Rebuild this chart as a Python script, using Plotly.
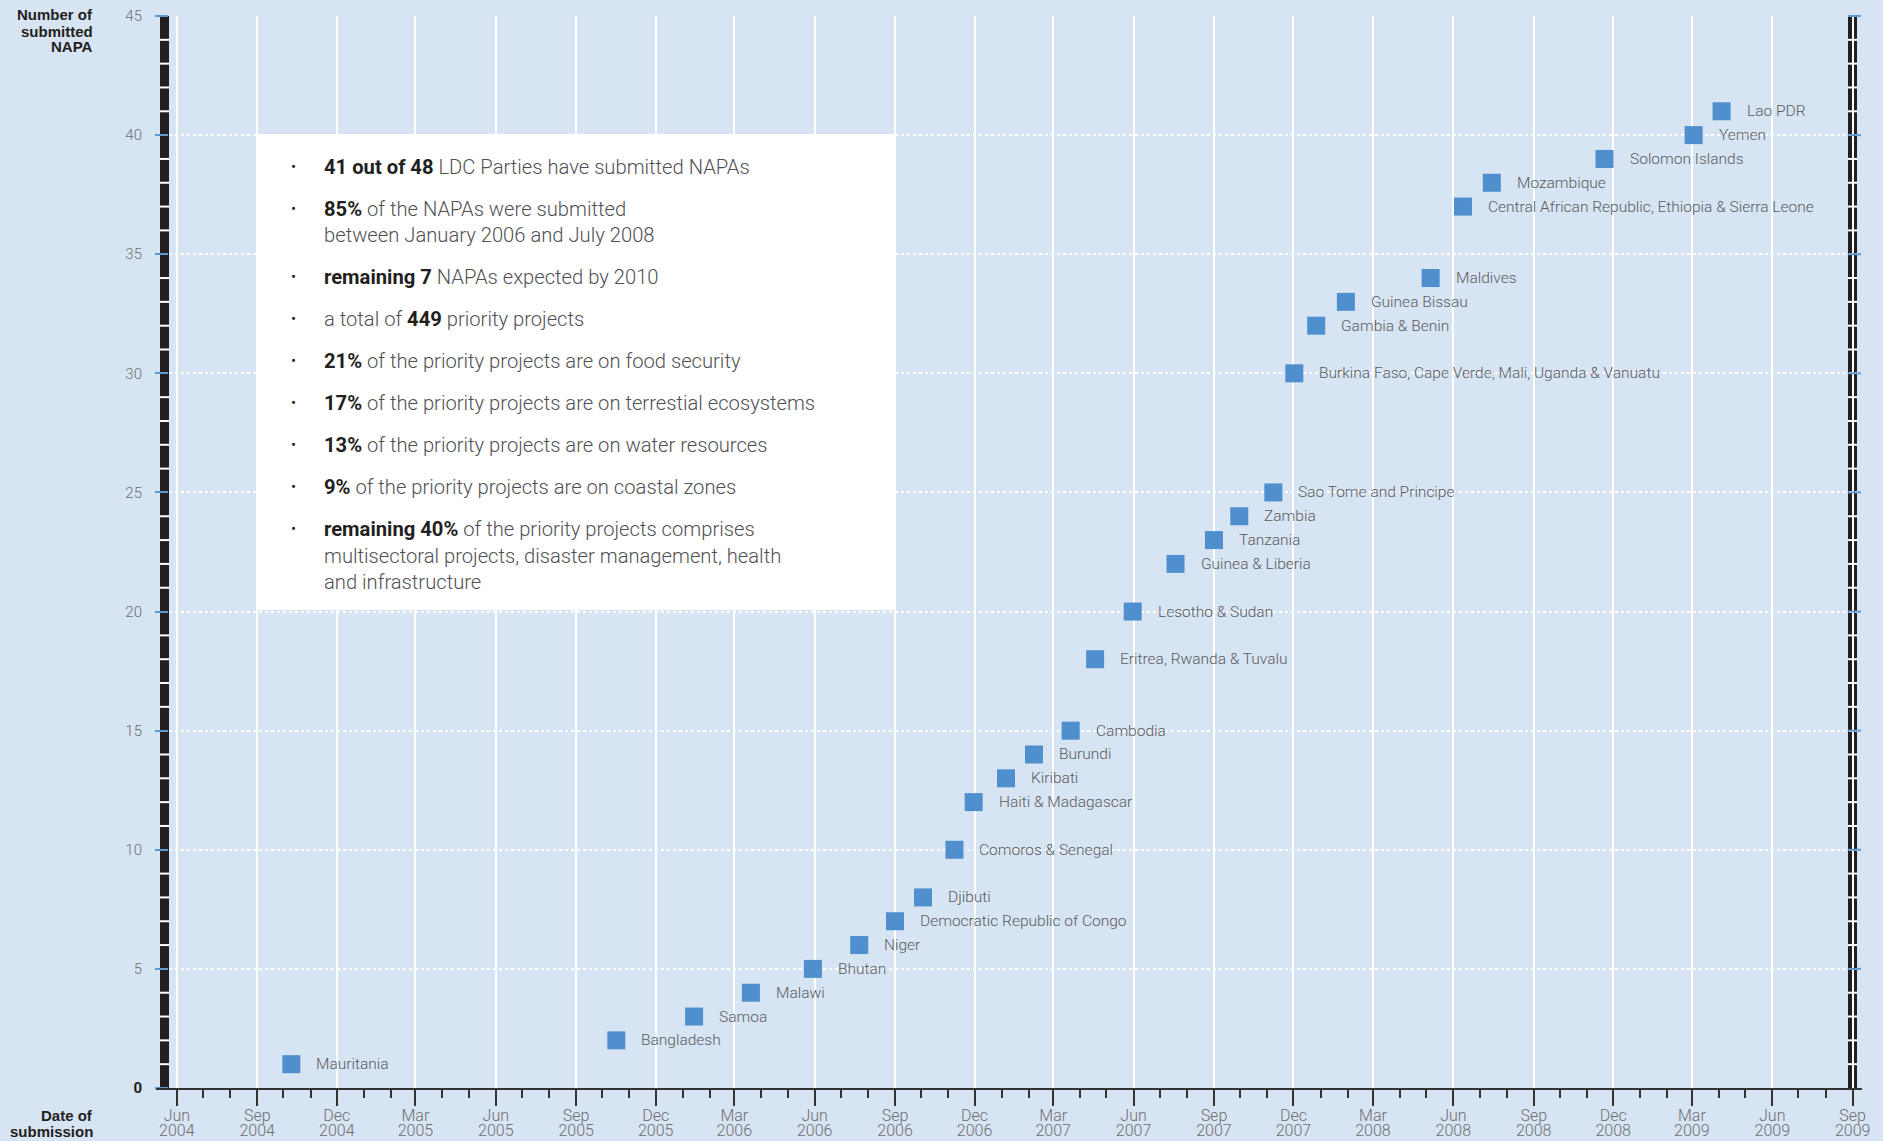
import plotly.graph_objects as go

# ---------------- data ----------------
COUNTRIES = [
    "Mauritania", "Bangladesh", "Samoa", "Malawi", "Bhutan", "Niger",
    "Democratic Republic of Congo", "Djibuti", "Comoros & Senegal",
    "Haiti & Madagascar", "Kiribati", "Burundi", "Cambodia",
    "Eritrea, Rwanda & Tuvalu", "Lesotho & Sudan", "Guinea & Liberia",
    "Tanzania", "Zambia", "Sao Tome and Principe",
    "Burkina Faso, Cape Verde, Mali, Uganda & Vanuatu", "Gambia & Benin",
    "Guinea Bissau", "Maldives",
    "Central African Republic, Ethiopia & Sierra Leone", "Mozambique",
    "Solomon Islands", "Yemen", "Lao PDR",
]
DATES = [
    "2004-10-10", "2005-10-17", "2006-01-14", "2006-03-20", "2006-05-30",
    "2006-07-22", "2006-09-01", "2006-10-03", "2006-11-08", "2006-11-30",
    "2007-01-06", "2007-02-07", "2007-03-21", "2007-04-18", "2007-05-31",
    "2007-07-19", "2007-09-01", "2007-09-30", "2007-11-08", "2007-12-02",
    "2007-12-27", "2008-01-30", "2008-05-06", "2008-06-12", "2008-07-15",
    "2008-11-21", "2009-03-03", "2009-04-04",
]
COUNTS = [1, 2, 3, 4, 5, 6, 7, 8, 10, 12, 13, 14, 15, 18, 20, 22, 23, 24,
          25, 30, 32, 33, 34, 37, 38, 39, 40, 41]

Y_TICKS = [0, 5, 10, 15, 20, 25, 30, 35, 40, 45]
Y_TICK_TEXT = ["<b><span style='color:#231f20'>0</span></b>", "5", "10", "15",
               "20", "25", "30", "35", "40", "45"]
X_RANGE = ["2004-05-23", "2009-09-06"]
X_TICK0 = "2004-06-01"

BOX_ITEMS = [
    ["<b>41 out of 48</b> LDC Parties have submitted NAPAs"],
    ["<b>85%</b> of the NAPAs were submitted",
     "between January 2006 and July 2008"],
    ["<b>remaining 7</b> NAPAs expected by 2010"],
    ["a total of <b>449</b> priority projects"],
    ["<b>21%</b> of the priority projects are on food security"],
    ["<b>17%</b> of the priority projects are on terrestial ecosystems"],
    ["<b>13%</b> of the priority projects are on water resources"],
    ["<b>9%</b> of the priority projects are on coastal zones"],
    ["<b>remaining 40%</b> of the priority projects comprises",
     "multisectoral projects, disaster management, health",
     "and infrastructure"],
]

# ---------------- layout helpers ----------------
W, H = 1883, 1141
L, R = 169, 1857      # plot area pixel edges
T, B = 16, 1088
YMAX = 45

def px(x):
    return (x - L) / (R - L)

def py(y):
    return (B - y) / (B - T)

BG = "#d7e4f3"
BLUE = "#4f8fcd"
TICKBLUE = "#5b9bd5"
DARK = "#231f20"
FONT = "Roboto, 'Liberation Sans', Arial, sans-serif"

fig = go.Figure()

fig.add_trace(go.Scatter(
    x=DATES, y=COUNTS, mode="markers",
    marker=dict(symbol="square", size=18, color=BLUE, line=dict(width=0)),
    hoverinfo="skip", showlegend=False, cliponaxis=False,
))
# invisible trace so the year-label axis renders
fig.add_trace(go.Scatter(
    x=DATES, y=COUNTS, mode="markers", xaxis="x2",
    marker=dict(size=1, opacity=0), hoverinfo="skip", showlegend=False,
))

annotations = []
for d, c, n in zip(DATES, COUNTS, COUNTRIES):
    annotations.append(dict(
        x=d, y=c, xref="x", yref="y", text=n, showarrow=False,
        xanchor="left", yanchor="middle", xshift=23,
        font=dict(family=FONT, size=15.5, color="#5a5b5e", weight=300),
    ))

# axis titles
for txt, ypix in [("Number of", 15), ("submitted", 31), ("NAPA", 47),
                  ("Date of", 1115), ("submission", 1131)]:
    annotations.append(dict(
        x=px(95), y=py(ypix), xref="paper", yref="paper", text="<b>" + txt + "</b>",
        showarrow=False, xanchor="right", yanchor="middle",
        font=dict(family="'Liberation Sans', Arial, sans-serif", size=15, color=DARK),
    ))

# info box text
ypix = 167
for item in BOX_ITEMS:
    annotations.append(dict(
        x=px(293), y=py(ypix), xref="paper", yref="paper", text="•",
        showarrow=False, xanchor="center", yanchor="middle",
        font=dict(family=FONT, size=15, color=DARK),
    ))
    y_line = ypix
    for line in item:
        annotations.append(dict(
            x=px(322), y=py(y_line), xref="paper", yref="paper",
            text=line.replace("<b>", "<b><span style='color:#231f20'>").replace("</b>", "</span></b>"),
            showarrow=False, xanchor="left", yanchor="middle",
            font=dict(family=FONT, size=20.2, color="#4f5053", weight=300),
        ))
        y_line += 26.3
    ypix += 42 + 26.3 * (len(item) - 1)

shapes = []
# white info box
shapes.append(dict(type="rect", xref="paper", yref="paper",
                   x0=px(256), x1=px(895), y0=py(610), y1=py(134),
                   fillcolor="white", line=dict(width=0), layer="between"))
# black ruler bars on both sides
for x0, x1 in [(160, 169), (1848, 1857)]:
    shapes.append(dict(type="rect", xref="paper", yref="paper",
                       x0=px(x0), x1=px(x1), y0=0, y1=1,
                       fillcolor=DARK, line=dict(width=0), layer="between"))
    for v in range(1, YMAX):
        if v % 5:
            shapes.append(dict(type="line", xref="paper", yref="paper",
                               x0=px(x0), x1=px(x1), y0=v / YMAX, y1=v / YMAX,
                               line=dict(color="white", width=2), layer="between"))
# right-side blue ticks
for v in Y_TICKS[1:]:
    shapes.append(dict(type="line", xref="paper", yref="paper",
                       x0=px(1848), x1=px(1861), y0=v / YMAX, y1=v / YMAX,
                       line=dict(color=TICKBLUE, width=2), layer="above"))
# axis line extension beyond the ruler bars
shapes.append(dict(type="line", xref="paper", yref="paper",
                   x0=px(156), x1=px(1862), y0=py(B + 1), y1=py(B + 1),
                   line=dict(color="#333333", width=2), layer="above"))

fig.update_layout(
    template="none",
    width=W, height=H, autosize=False,
    margin=dict(l=L, r=W - R, t=T, b=H - B, pad=0, autoexpand=False),
    paper_bgcolor=BG, plot_bgcolor=BG,
    font=dict(family=FONT),
    showlegend=False,
    annotations=annotations,
    shapes=shapes,
    xaxis=dict(
        type="date", range=X_RANGE, tickmode="linear", tick0=X_TICK0, dtick="M3",
        tickformat="%b", showgrid=True, gridcolor="white", gridwidth=2,
        ticks="outside", ticklen=16, tickwidth=2, tickcolor="#333333",
        showline=True, linecolor="#333333", linewidth=2, automargin=False,
        ticklabelstandoff=-4,
        tickfont=dict(family=FONT, size=16, color="#6d6e71", weight=300),
        minor=dict(dtick="M1", tick0=X_TICK0, ticks="outside", ticklen=8,
                   tickwidth=2, tickcolor="#333333", showgrid=False),
        zeroline=False, fixedrange=True,
    ),
    xaxis2=dict(
        type="date", range=X_RANGE, tickmode="linear", tick0=X_TICK0, dtick="M3",
        tickformat="%Y", overlaying="x", anchor="y", side="bottom",
        showgrid=False, ticks="", showline=False, zeroline=False,
        ticklabelstandoff=31, automargin=False,
        tickfont=dict(family=FONT, size=16, color="#6d6e71", weight=300),
    ),
    yaxis=dict(
        range=[0, YMAX], tickmode="array", tickvals=Y_TICKS, ticktext=Y_TICK_TEXT,
        showgrid=True, gridcolor="white", gridwidth=2, griddash="dot",
        ticks="outside", ticklen=13, tickwidth=2, tickcolor=TICKBLUE,
        ticklabelstandoff=10, showline=False, zeroline=False, automargin=False,
        tickfont=dict(family=FONT, size=15, color="#6d6e71", weight=300),
    ),
)

fig.write_html("out.html", config={"displayModeBar": False},
               post_script="document.body.style.margin='0';document.body.style.overflow='hidden';")
